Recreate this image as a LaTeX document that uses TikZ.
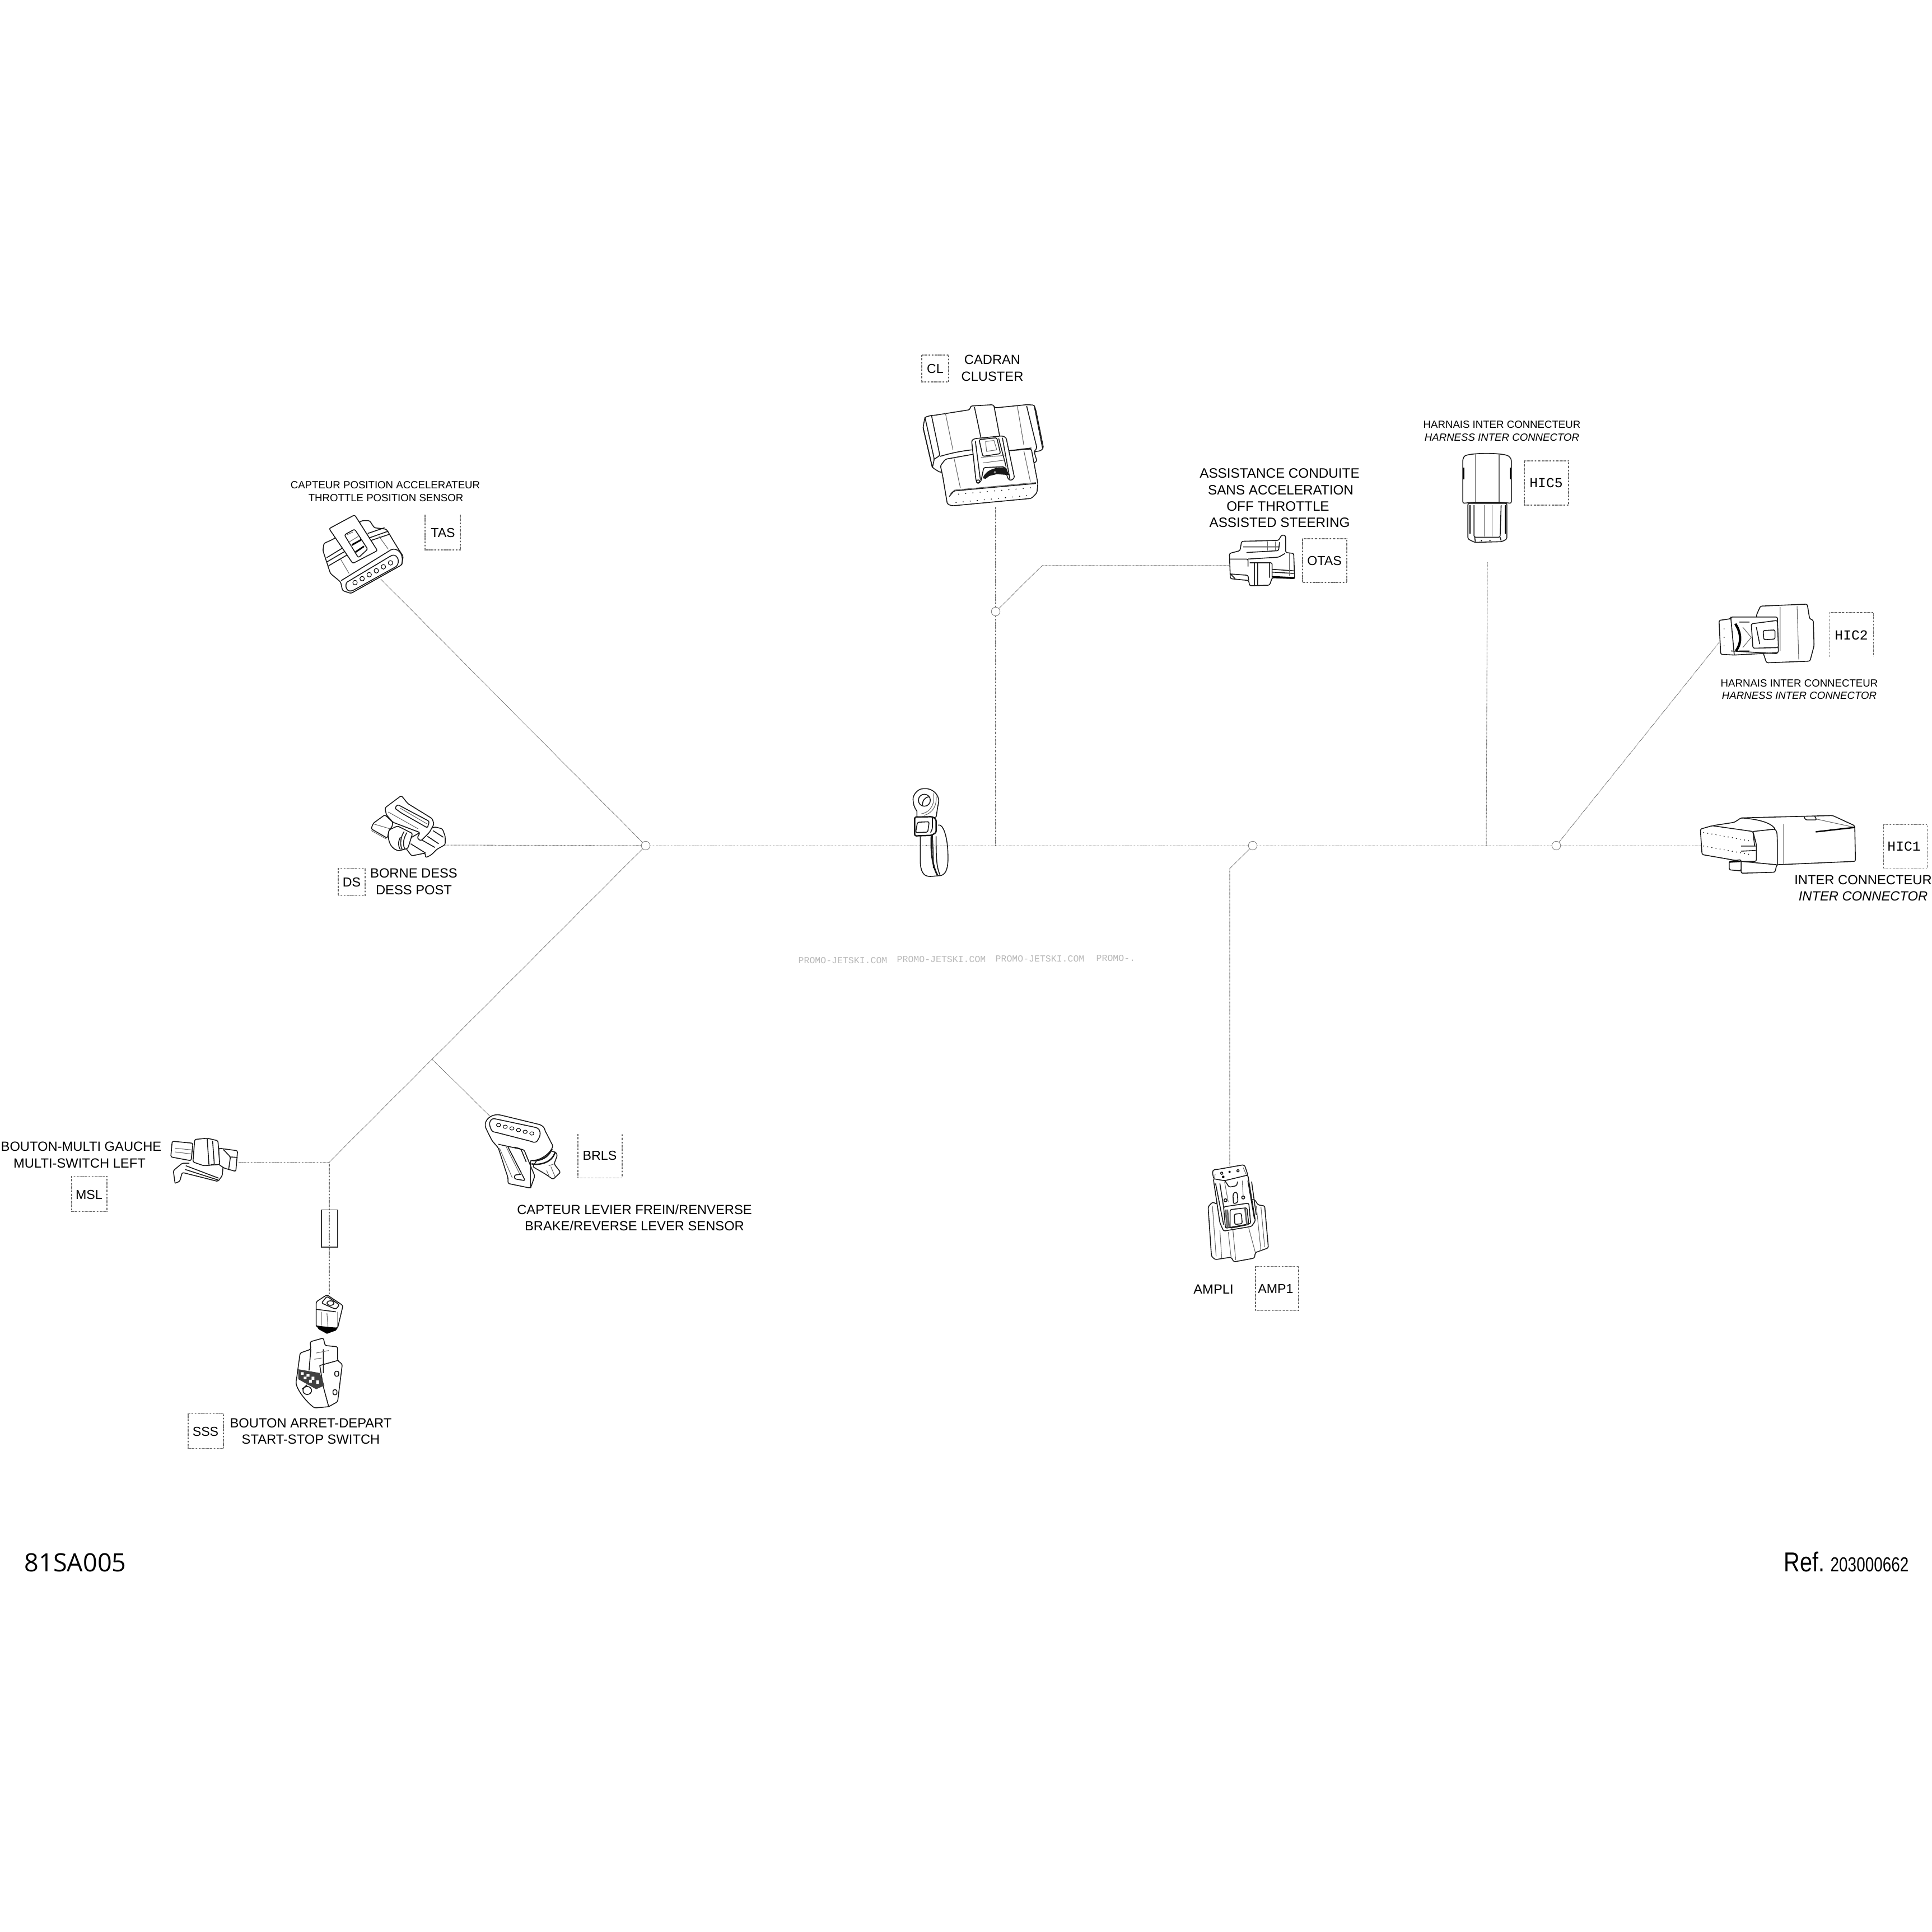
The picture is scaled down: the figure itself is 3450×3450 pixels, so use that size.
\documentclass[tikz,border=0pt]{standalone}
\usepackage{fontspec}
\setmainfont{Liberation Sans}
\setmonofont{Liberation Mono}
\newfontfamily\footsans{Open Sans}
\newfontfamily\narrowA[FakeStretch=0.81]{Liberation Sans}
\newfontfamily\narrowB[FakeStretch=0.77]{Liberation Sans}
\newcommand{\fsz}[1]{\fontsize{#1}{#1}\selectfont}
\tikzset{
  x=0.01cm,y=-0.01cm,
  wire/.style={line width=0.3pt,black!55,dash pattern=on 0.45pt off 0.25pt},
  junc/.style={circle,draw=black!50,line width=0.25pt,minimum size=4.4pt,inner sep=0pt},
  cpart/.style={draw=black!90,line width=0.45pt,line join=round,rounded corners=0.8pt},
  cfill/.style={cpart,fill=white},
  cfine/.style={draw=black!60,line width=0.3pt,line join=round},
  cdark/.style={draw=black,line width=1.1pt,line join=round},
  lab/.style={inner sep=0pt,align=center,font=\fsz{6.75}},
  labl/.style={lab,font=\fsz{5.3}},
  tagtext/.style={inner sep=0pt,font=\fsz{6.6}},
  tagmono/.style={inner sep=0pt,font=\ttfamily\fsz{7}},
  tagbox/.style={line width=0.3pt,black!60,dash pattern=on 0.45pt off 0.25pt},
  water/.style={inner sep=0pt,anchor=west,text=black!28,font=\ttfamily\fsz{4.7}},
  zA/.style={shift={(1580,600)},xscale=0.574,yscale=0.3333},
  zB/.style={shift={(480,820)},xscale=0.3333,yscale=0.51},
  zC/.style={shift={(2500,720)},xscale=0.606,yscale=0.606},
  zD/.style={shift={(0,1950)},xscale=0.638,yscale=0.446},
  zE/.style={shift={(800,1950)},xscale=0.3827,yscale=0.3333},
  zF/.style={shift={(2050,2030)},scale=0.3333},
  zG/.style={shift={(1550,1380)},scale=0.3333},
  zH/.style={shift={(600,1400)},scale=0.3333},
  zI/.style={shift={(1620,700)},scale=0.3333},
}
\begin{document}
\begin{tikzpicture}
\useasboundingbox[fill=white] (0,0) rectangle (3450,3450);

% ---------- wiring ----------
\node[junc] (jl) at (1153,1510) {};
\node[junc] (jc) at (1778,1092) {};
\node[junc] (ja) at (2237,1510) {};
\node[junc] (jr) at (2779,1510) {};
\coordinate (tcl) at (1778,1510);
\coordinate (th5) at (2654,1510);
\coordinate (bcl) at (1778,905);
\coordinate (botas) at (2194,1010);
\coordinate (kotas) at (1861,1010);
\coordinate (bh5) at (2656,1004);
\coordinate (bh2) at (3070,1147);
\coordinate (bh1) at (3036,1510);
\coordinate (kamp) at (2196,1551);
\coordinate (bamp) at (2196,2082);
\coordinate (bds) at (793,1509);
\coordinate (btas) at (680,1034);
\coordinate (kl) at (588,2075);
\coordinate (tbr) at (772,1892);
\coordinate (bbr) at (877,1995);
\coordinate (bmsl) at (426,2075);
\coordinate (bsss) at (588,2312);

\draw[wire] (jl) -- (tcl) -- (ja) -- (th5) -- (jr) -- (bh1);
\draw[wire] (bcl) -- (jc) -- (tcl);
\draw[wire] (jc) -- (kotas) -- (botas);
\draw[wire] (bh5) -- (th5);
\draw[wire] (jr) -- (bh2);
\draw[wire] (ja) -- (kamp) -- (bamp);
\draw[wire] (bds) -- (jl);
\draw[wire] (btas) -- (jl);
\draw[wire] (jl) -- (kl);
\draw[wire] (tbr) -- (bbr);
\draw[wire] (bmsl) -- (kl) -- (bsss);
\node[draw=black!80,line width=0.35pt,inner sep=0pt,minimum width=8.2pt,minimum height=19pt] (fuse) at (588.5,2193.5) {};

% ---------- CLUSTER ----------
\begin{scope}[zI]
\draw[cfill] (85,190) -- (95,135) -- (130,125) -- (145,125) -- (335,95) -- (340,75) -- (460,68) -- (470,85) -- (640,68) -- (680,70) -- (690,100) -- (730,300) -- (715,315) -- (680,320) -- (695,370) -- (650,400) -- (175,430) -- (135,405) -- cycle;
\draw[cfine] (205,115) -- (245,310) (590,75) -- (625,285);
\draw[cpart] (95,135) -- (145,360) -- (135,405) (130,125) -- (175,340) -- (145,360) (85,190) -- (135,405);
\draw[cpart] (640,75) -- (695,300) -- (680,320) (680,72) -- (725,300);
\draw[cpart] (360,80) -- (395,245) (465,75) -- (495,235);
\draw[cpart] (175,345) .. controls (210,335) and (260,320) .. (345,310) (540,315) -- (665,300);
\draw[cfill] (190,450) -- (178,395) -- (205,360) -- (345,335) -- (540,315) -- (665,305) -- (700,490) -- (695,540) -- (665,570) -- (240,610) -- (215,600) -- cycle;
\draw[cfine] (250,350) -- (285,515) (625,315) -- (660,480) (230,545) -- (255,525) -- (690,485);
\draw[cpart] (225,560) -- (250,530) -- (690,490);
\draw[cfill] (345,260) -- (360,250) -- (510,235) -- (530,245) -- (575,460) -- (555,475) -- (540,465) -- (520,400) -- (410,405) -- (395,480) -- (375,490) -- (368,470) -- cycle;
\draw[cpart] (365,262) -- (392,470) (510,245) -- (550,465) (490,248) -- (530,400);
\draw[cpart] (385,255) -- (480,245) -- (500,330) -- (405,345) -- cycle;
\draw[cfine] (420,265) -- (465,260) -- (480,310) -- (425,318) -- cycle (395,350) -- (520,340) (405,380) -- (520,365);
\fill[black!90] (405,462) .. controls (420,415) and (480,400) .. (530,405) -- (545,445) -- (480,440) -- (440,450) -- (420,465) -- cycle;
\fill[black!40] (470,430) circle (6);
\draw[cpart] (380,480) circle (9);
\foreach \i in {0,...,10} {\fill ({275+\i*38.5},{547-\i*3.4}) circle (3.4 and 2.6);}
\foreach \i in {0,...,10} {\fill ({262+\i*37.8},{592-\i*3.7}) circle (3.4 and 2.6);}
\end{scope}

% ---------- OTAS ----------
\begin{scope}[zA]
\draw[cfill] (1072,1165) -- (1105,1150) -- (1110,1100) -- (1225,1095) -- (1235,1065) -- (1247,1070) -- (1247,1160) -- (1272,1165) -- (1275,1300) -- (1205,1295) -- (1197,1335) -- (1135,1338) -- (1132,1310) -- (1075,1300) -- cycle;
\draw[cpart] (1115,1130) -- (1225,1130) (1125,1160) -- (1225,1150) -- (1228,1105) (1130,1195) -- (1225,1185) -- (1245,1165) (1075,1195) -- (1130,1195) -- (1130,1235);
\draw[cpart] (1150,1215) -- (1150,1335) (1197,1215) -- (1197,1295) (1160,1215) -- (1160,1335) (1135,1215) -- (1205,1215) -- (1205,1295);
\draw[cpart] (1205,1250) -- (1272,1258) (1205,1265) -- (1272,1272);
\draw[cdark,line width=0.8pt] (1205,1290) -- (1275,1296);
\draw[cfine] (1190,1100) -- (1190,1150) (1215,1100) -- (1215,1150) (1258,1165) -- (1258,1285);
\draw[cpart] (1075,1275) -- (1130,1282) -- (1132,1310) (1075,1275) -- (1090,1300);
\end{scope}

% ---------- TAS ----------
\begin{scope}[zB]
\draw[cfill] (290,320) -- (295,295) -- (345,280) -- (500,215) -- (540,215) -- (565,240) -- (630,245) -- (690,310) -- (720,340) -- (712,370) -- (440,470) -- (395,460) -- (385,430) -- (330,400) -- (310,360) -- cycle;
\draw[cpart] (310,345) -- (410,305) (310,360) -- (415,320) (316,375) -- (420,335);
\draw[cpart] (530,260) -- (620,240) (540,275) -- (640,252) (545,285) -- (650,262);
\draw[cfill] (323,243) -- (460,195) -- (582,320) -- (450,365) -- cycle;
\draw[cpart] (405,265) -- (460,245) -- (530,315) -- (480,345) -- cycle;
\draw[cfine] (418,265) -- (450,255) (430,290) -- (480,270) (440,305) -- (492,285);
\draw[cdark,line width=0.8pt] (445,300) -- (495,282) (465,325) -- (510,305);
\draw[cpart] (388,425) -- (660,315) .. controls (700,315) and (725,335) .. (712,370);
\draw[cpart] (420,430) -- (650,340) .. controls (680,330) and (705,350) .. (685,375) -- (450,460) .. controls (415,465) and (405,440) .. (420,430);
\foreach \i in {0,...,5} {\draw[cfine,draw=black] ({462+\i*38},{432-\i*13.8}) ellipse (12 and 8);}
\draw[cfine] (380,345) -- (430,400) (590,270) -- (640,315);
\end{scope}

% ---------- DS ----------
\begin{scope}[zH]
\draw[cfill] (188,240) -- (200,210) -- (262,165) -- (305,205) -- (300,230) -- (285,245) -- (275,290) -- cycle;
\draw[cfine] (205,215) -- (290,240) (190,250) -- (270,295);
\draw[cfill] (380,300) -- (450,260) -- (530,230) -- (570,240) -- (585,280) -- (585,325) -- (540,350) -- (510,380) -- (480,395) -- (478,370) -- (405,385) -- (375,345) -- cycle;
\draw[cpart] (400,320) -- (480,370) (460,300) -- (530,340) (490,280) -- (550,320) (520,250) -- (575,285);
\draw[cfill] (285,245) .. controls (275,290) and (285,340) .. (335,358) -- (385,345) -- (410,265) -- (330,225) -- cycle;
\draw[cpart] (345,285) .. controls (330,310) and (335,340) .. (345,350) (365,255) .. controls (340,290) and (345,340) .. (355,350) (380,260) .. controls (355,300) and (360,335) .. (370,350);
\draw[cfill] (262,128) -- (350,62) -- (385,105) -- (515,185) -- (525,215) -- (500,260) -- (455,305) -- (435,290) -- (450,260) -- (305,205) -- (270,165) -- cycle;
\draw[cpart] (315,130) -- (330,110) -- (500,200) -- (490,235) -- (350,155) -- cycle;
\draw[cfine] (345,130) -- (490,215) (280,150) -- (440,240);
\end{scope}

% ---------- HIC5, HIC2, HIC1 ----------
\begin{scope}[zC]
\draw[cfill] (200,295) -- (315,295) -- (315,400) -- (300,408) -- (220,410) -- (200,400) -- cycle;
\draw[cpart] (218,300) -- (218,395) -- (295,395) -- (298,300) (220,395) -- (222,408) (295,395) -- (298,405);
\draw[cdark,line width=0.7pt] (206,300) -- (206,385) (310,300) -- (310,385);
\draw[cfine] (248,300) -- (248,392) (272,300) -- (272,392);
\fill (240,405) circle (2) (265,405) circle (2);
\draw[cfill] (190,155) .. controls (220,146) and (290,146) .. (320,155) -- (328,165) -- (328,295) -- (300,292) -- (215,292) -- (185,295) -- (185,165) -- cycle;
\draw[cfine] (222,150) -- (222,290) (292,150) -- (292,290);
\draw[cdark,line width=0.7pt] (187,190) -- (187,225) (326,190) -- (326,225);
% HIC2
\draw[cfill] (1050,625) -- (1062,598) -- (1200,592) -- (1207,635) -- (1218,640) -- (1220,715) -- (1208,760) -- (1080,765) -- (1070,735) -- cycle;
\draw[cfine] (1120,600) -- (1120,730) (1170,598) -- (1175,755);
\draw[cfill] (940,640) -- (975,635) -- (975,630) -- (1112,630) -- (1115,735) -- (985,742) -- (945,740) -- cycle;
\draw[cpart] (975,635) -- (985,742) (1000,645) -- (1030,645) (1000,730) -- (1030,730) (975,730) -- (1112,738);
\draw[cfill] (1035,650) -- (1112,640) -- (1115,720) -- (1040,722) -- cycle;
\draw[cpart] (1070,670) -- (1105,668) -- (1105,695) -- (1072,697) -- cycle (1050,660) -- (1060,710);
\draw[cdark,line width=1.2pt] (988,650) .. controls (1008,680) and (1005,710) .. (990,730);
\draw[cfine] (1010,660) -- (1035,690) -- (1010,720);
\foreach \y in {665,690,715} {\fill (955,\y) circle (1.5);}
% HIC1
\draw[cfill] (1005,1350) -- (1005,1385) -- (1105,1382) -- (1110,1360) -- (1342,1350) -- (1340,1245) -- (1275,1215) -- (1005,1222) -- (985,1235) -- (920,1245) -- cycle;
\draw[cpart] (1040,1262) -- (1105,1255) .. controls (1112,1265) and (1112,1270) .. (1112,1360) (1005,1222) .. controls (1050,1225) and (1095,1235) .. (1105,1255) (1005,1350) -- (1110,1360);
\draw[cfine] (1130,1240) -- (1130,1358) (1225,1225) -- (1340,1250);
\draw[cdark,line width=0.7pt] (1225,1263) -- (1340,1250);
\draw[cpart] (1190,1217) -- (1195,1228) -- (1228,1228) -- (1222,1217);
\draw[cfill] (885,1255) -- (920,1245) -- (1040,1262) -- (1050,1300) -- (1050,1350) -- (1005,1350) -- (890,1330) -- cycle;
\draw[cpart] (1005,1305) -- (1048,1305) (1005,1320) -- (1048,1318) (1040,1262) -- (1045,1305);
\foreach \i in {0,...,11} {\fill ({895+\i*12},{1265+\i*2.2}) circle (1.6); \fill ({895+\i*12},{1305+\i*2.2}) circle (1.6);}
\draw[cfill] (970,1350) -- (1005,1345) -- (1005,1378) -- (970,1375) -- cycle;
\draw[cdark,line width=0.7pt] (972,1352) -- (1003,1350);
\end{scope}

% ---------- Ground clip ----------
\begin{scope}[zG]
\draw[cpart] (280,340) -- (280,480) .. controls (285,540) and (305,555) .. (340,555) -- (395,550) .. controls (425,530) and (430,490) .. (428,430) .. controls (425,350) and (405,270) .. (375,280);
\draw[cpart,line width=0.8pt] (340,335) .. controls (335,420) and (345,500) .. (372,548);
\draw[cpart] (365,340) .. controls (365,440) and (365,500) .. (385,545) (345,335) .. controls (350,430) and (350,490) .. (350,510);
\draw[cfill] (262,205) -- (262,240) -- (365,240) -- (372,190) -- (380,150) .. controls (370,100) and (330,85) .. (305,85) .. controls (265,85) and (240,120) .. (242,150) .. controls (245,180) and (255,195) .. (262,205);
\draw[cpart] (302,147) circle (32);
\draw[cpart] (292,175) .. controls (290,150) and (305,130) .. (330,128);
\draw[cfine] (350,110) .. controls (360,160) and (340,210) .. (285,220) (365,125) .. controls (370,170) and (350,215) .. (300,228);
\draw[cfill,line width=0.7pt] (250,237) -- (345,235) -- (365,250) -- (365,320) -- (340,335) -- (250,338) -- cycle;
\draw[cpart] (265,265) -- (328,262) -- (320,318) -- (255,320) -- cycle (345,238) -- (345,300) -- (335,320);
\fill (312,388) circle (2);
\end{scope}

% ---------- AMP ----------
\begin{scope}[zF]
\draw[cfill] (322,375) -- (345,350) -- (370,360) -- (570,335) -- (590,365) -- (625,370) -- (645,595) -- (575,620) -- (570,650) -- (460,670) -- (445,645) -- (360,658) -- (340,640) -- cycle;
\draw[cfine] (345,370) -- (365,640) (385,500) -- (395,650) (430,510) -- (445,645) (455,500) -- (470,660) (540,490) -- (575,620) (580,370) -- (605,610) (605,375) -- (625,590);
\draw[cfill] (350,225) -- (535,205) -- (575,450) -- (555,480) -- (405,505) -- (385,460) -- cycle;
\draw[cpart] (362,250) -- (405,470) (385,250) -- (420,470) (535,235) -- (570,440) (555,240) -- (580,420);
\draw[cfine] (410,240) -- (430,350) (505,235) -- (510,320);
\draw[cpart] (412,235) -- (435,270) -- (475,262) -- (480,240);
\draw[cpart] (455,310) -- (465,295) -- (478,300) -- (482,350) -- (458,360) -- cycle (415,340) circle (8) (510,325) circle (8);
\draw[cfill] (405,375) -- (540,355) -- (550,465) -- (415,490) -- cycle;
\draw[cpart] (440,390) -- (530,380) -- (540,470) -- (440,490) -- cycle (462,415) -- (500,410) -- (505,465) -- (465,470) -- cycle;
\draw[cfine,line width=0.8pt] (415,390) -- (425,485) (425,390) -- (435,485) (520,385) -- (530,470);
\draw[cfill] (345,190) .. controls (350,178) and (360,175) .. (370,175) -- (500,152) .. controls (515,150) and (520,160) .. (522,165) -- (535,205) -- (410,235) -- (352,225) -- cycle;
\draw[cpart] (395,195) circle (6) (482,182) circle (6);
\fill (437,188) circle (6) (403,215) circle (7);
\draw[cfine] (360,200) -- (355,225) (510,165) -- (525,200);
\end{scope}

% ---------- MSL ----------
\begin{scope}[zD]
\draw[cpart] (490,365) -- (485,315) -- (510,285) -- (530,285) (490,365) -- (503,358) -- (510,322) -- (610,358) -- (622,335) -- (625,290);
\draw[cpart] (520,295) -- (612,345) (518,310) -- (610,352);
\draw[cfill] (482,197) -- (540,205) -- (535,275) -- (478,260) -- cycle;
\draw[cfine] (490,225) -- (538,232) (490,240) -- (535,248);
\draw[cfill] (612,225) -- (665,235) -- (660,318) -- (628,305) -- (612,290) -- cycle;
\draw[cpart] (625,230) -- (645,260) -- (640,310) (645,260) -- (665,262);
\draw[cfill] (545,190) -- (580,185) -- (610,195) -- (615,290) -- (570,295) -- (540,280) -- cycle;
\draw[cpart] (580,188) -- (585,295) (595,195) -- (600,292) -- (590,290);
% SSS small
\draw[cfill] (885,840) -- (915,812) -- (960,855) -- (945,945) -- (885,940) -- cycle;
\draw[cpart] (900,845) -- (915,818) -- (950,852) -- (940,870) -- cycle (885,870) -- (940,880);
\draw[cpart] (925,845) ellipse (10 and 9);
\draw[cfine] (900,880) -- (900,935) (915,885) -- (918,940) (945,880) -- (945,940);
\fill (885,935) -- (945,945) -- (940,955) -- (915,968) -- (892,950) -- cycle;
% SSS switch
\draw[cfill] (840,1045) -- (870,1030) -- (868,1000) -- (905,985) -- (910,1015) -- (945,1020) -- (945,1075) -- (958,1090) -- (945,1240) -- (920,1260) -- (880,1265) .. controls (850,1230) and (825,1180) .. (830,1150) -- cycle;
\draw[cpart] (870,1030) -- (865,1115) (905,1030) -- (905,1125) (895,1095) -- (945,1075) (895,1095) -- (905,1180) -- (920,1260);
\fill[black!75] (835,1110) -- (895,1125) -- (908,1175) -- (885,1190) -- (835,1150) -- cycle;
\fill[white] (842,1122) rectangle (850,1132) (858,1130) rectangle (866,1140) (872,1140) rectangle (880,1152) (850,1140) rectangle (858,1150) (865,1152) rectangle (873,1164) (885,1155) rectangle (893,1168);
\draw[cpart] (860,1195) circle (12 and 16) (845,1190) -- (860,1172);
\draw[cpart] (937,1118) rectangle (948,1138) (932,1192) rectangle (943,1212);
\draw[cfine] (885,1045) -- (920,1035) (880,1070) -- (900,1065);
\end{scope}

% ---------- BRLS ----------
\begin{scope}[zE]
\draw[cfill] (470,310) -- (505,325) -- (510,340) -- (495,385) -- (525,430) -- (490,468) -- (455,440) -- (395,400) -- (430,340) -- cycle;
\draw[cfine] (470,395) -- (495,385) (460,420) -- (475,460) (480,400) -- (500,455);
\draw[cpart,line width=0.7pt] (385,365) .. controls (430,375) and (470,350) .. (485,305) (390,385) .. controls (440,395) and (490,370) .. (500,320);
\draw[cfill] (175,190) .. controls (170,150) and (200,120) .. (240,122) -- (430,175) .. controls (445,185) and (450,195) .. (452,205) -- (490,290) .. controls (470,340) and (420,370) .. (385,365) -- (385,515) -- (280,490) -- (280,460) -- (235,300) -- (205,260) -- cycle;
\draw[cpart] (195,180) .. controls (190,155) and (205,140) .. (225,145) -- (410,190) .. controls (430,200) and (435,225) .. (420,255) .. controls (412,270) and (400,270) .. (390,265) -- (220,215) .. controls (205,212) and (198,195) .. (195,180);
\foreach \i in {0,...,5} {\draw[cfine,draw=black] ({236+\i*31},{177+\i*9}) ellipse (10 and 9);}
\draw[cpart] (235,280) -- (355,310) -- (385,395) -- (405,450) -- (385,515) (280,295) -- (345,440) -- (310,445) -- (310,465) -- (360,475) -- (345,440) (310,295) -- (340,305) -- (365,375);
\draw[cfine] (240,300) -- (300,460) (270,290) -- (335,440);
\end{scope}

% ---------- tag boxes ----------
\node[tagtext] (tagcl) at (1670,658) {CL};
\draw[tagbox] (1646,634) rectangle (1694,682);
\node[tagtext] (tagotas) at (2365,1001) {OTAS};
\draw[tagbox] (2326,962) rectangle (2405,1040);
\node[tagtext] (tagtas) at (791,951) {TAS};
\draw[tagbox] (759,919) -- (759,982) -- (822,982) -- (822,919);
\node[tagtext] (tagds) at (628,1575) {DS};
\draw[tagbox] (604,1550) rectangle (652,1599);
\node[tagtext] (tagmsl) at (159,2133) {MSL};
\draw[tagbox] (128,2100) rectangle (191,2163);
\node[tagtext] (tagsss) at (367,2556) {SSS};
\draw[tagbox] (336,2524) rectangle (399,2586);
\node[tagtext] (tagbrls) at (1071,2063) {BRLS};
\draw[tagbox] (1032,2025) -- (1032,2103) -- (1111,2103) -- (1111,2025);
\node[tagtext] (tagamp) at (2278,2301) {AMP1};
\draw[tagbox] (2242,2261) rectangle (2319,2340);
\node[tagmono] (taghc5) at (2761,862) {HIC5};
\draw[tagbox] (2722,823) rectangle (2801,902);
\node[tagmono] (taghc2) at (3306,1134) {HIC2};
\draw[tagbox] (3267,1173) -- (3267,1094) -- (3345,1094) -- (3345,1173);
\node[tagmono] (taghc1) at (3400,1511) {HIC1};
\draw[tagbox] (3363,1472) rectangle (3441,1551);

% ---------- labels ----------
\node[lab] (l1a) at (1772,642) {CADRAN};
\node[lab] (l1b) at (1772,672) {CLUSTER};
\node[lab,font=\fsz{6.9}] (l2a) at (2285,845) {ASSISTANCE CONDUITE};
\node[lab,font=\fsz{6.9}] (l2b) at (2287,875) {SANS ACCELERATION};
\node[lab,font=\fsz{6.9}] (l2c) at (2282,904) {OFF THROTTLE};
\node[lab,font=\fsz{6.9}] (l2d) at (2285,933) {ASSISTED STEERING};
\node[labl] (l3a) at (688,866) {CAPTEUR POSITION ACCELERATEUR};
\node[labl] (l3b) at (689,889) {THROTTLE POSITION SENSOR};
\node[lab] (l4a) at (739,1559) {BORNE DESS};
\node[lab] (l4b) at (739,1589) {DESS POST};
\node[lab] (l5a) at (145,2047) {BOUTON-MULTI GAUCHE};
\node[lab] (l5b) at (142,2077) {MULTI-SWITCH LEFT};
\node[lab] (l6a) at (555,2541) {BOUTON ARRET-DEPART};
\node[lab] (l6b) at (555,2570) {START-STOP SWITCH};
\node[lab] (l7a) at (1133,2160) {CAPTEUR LEVIER FREIN/RENVERSE};
\node[lab] (l7b) at (1133,2189) {BRAKE/REVERSE LEVER SENSOR};
\node[lab] (l8) at (2167,2302) {AMPLI};
\node[labl] (l9a) at (2682,758) {HARNAIS INTER CONNECTEUR};
\node[labl,font=\fsz{5.3}\itshape] (l9b) at (2682,781) {HARNESS INTER CONNECTOR};
\node[labl] (l10a) at (3213,1220) {HARNAIS INTER CONNECTEUR};
\node[labl,font=\fsz{5.3}\itshape] (l10b) at (3213,1242) {HARNESS INTER CONNECTOR};
\node[lab] (l11a) at (3327,1571) {INTER CONNECTEUR};
\node[lab,font=\fsz{6.75}\itshape] (l11b) at (3327,1600) {INTER CONNECTOR};

% ---------- watermark ----------
\node[water] (w1) at (1425,1715) {PROMO-JETSKI.COM};
\node[water] (w2) at (1601,1713) {PROMO-JETSKI.COM};
\node[water] (w3) at (1777,1712) {PROMO-JETSKI.COM};
\node[water] (w4) at (1957,1711) {PROMO-.};

% ---------- footer ----------
\node[inner sep=0pt,anchor=base west,font=\footsans\fsz{12.8}] (code) at (43,2806) {81SA005};
\node[inner sep=0pt,anchor=base west,font=\narrowA\fsz{13.9}] (ref) at (3185,2806) {Ref.};
\node[inner sep=0pt,anchor=base west,font=\narrowB\fsz{10.3}] (refn) at (3268,2806) {203000662};
\end{tikzpicture}
\end{document}
